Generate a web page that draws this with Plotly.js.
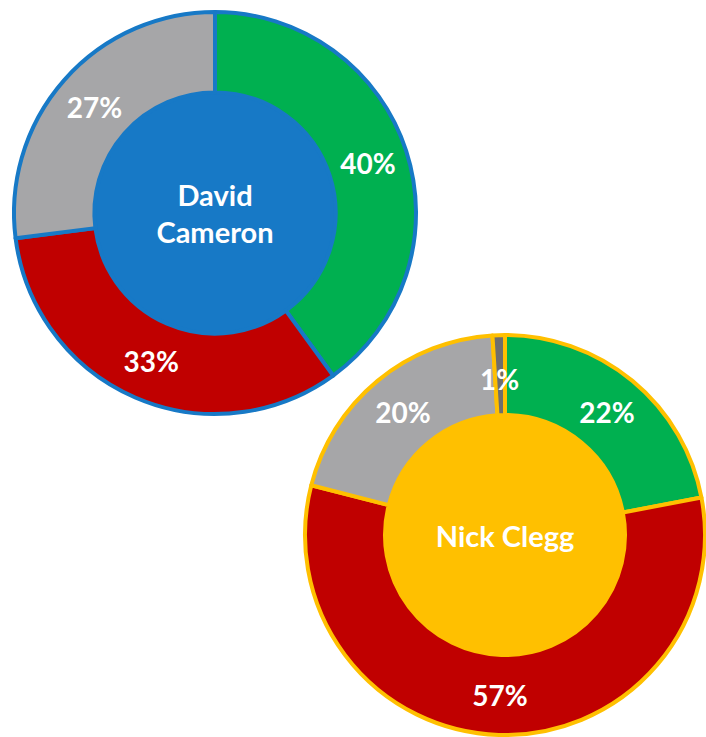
<!DOCTYPE html>
<html>
<head>
<meta charset="utf-8">
<script src="https://cdn.plot.ly/plotly-3.0.1.min.js"></script>
<style>html,body{margin:0;padding:0;background:#fff;}#chart{width:706px;height:737px;}</style>
</head>
<body>
<div id="chart"></div>
<script>
// ---- data ----
const categories = ['Positive', 'Negative', 'Neutral', 'Other'];
const cameronValues = [40, 33, 27];
const cleggValues = [22, 57, 20, 1];
const cameronTitle = 'David<br>Cameron';
const cleggTitle = 'Nick Clegg';

// ---- styling ----
const W = 706, H = 737;
const sliceColors = ['#00B050', '#C00000', '#A6A6A8', '#6E6E6E'];
const cameronBlue = '#1779C6';
const cleggGold = '#FFC000';
const FONT = 'Lato, "Open Sans", sans-serif';
const HOLE = 0.6;

function dom(cx, cy, r) {
  return {
    x: [(cx - r) / W, (cx + r) / W],
    y: [(H - cy - r) / H, (H - cy + r) / H]
  };
}

const cam = {cx: 215, cy: 213, r: 201};
const clg = {cx: 505, cy: 535, r: 200};

function disk(g, color) {
  return {
    type: 'pie', values: [1], labels: ['disk'], sort: false,
    marker: {colors: [color], line: {color: color, width: 0}},
    textinfo: 'none', hoverinfo: 'skip', showlegend: false,
    domain: dom(g.cx, g.cy, g.r * HOLE + 3)
  };
}

function donut(g, values, lineColor, title, textpos, titleSize) {
  return {
    type: 'pie', values: values, labels: categories.slice(0, values.length),
    sort: false, direction: 'clockwise', rotation: 0, hole: HOLE,
    marker: {colors: sliceColors.slice(0, values.length), line: {color: lineColor, width: 4}},
    texttemplate: '%{value}%', textposition: textpos,
    insidetextorientation: 'horizontal',
    textfont: {family: FONT, size: 28, color: '#ffffff', weight: 700},
    title: {text: title, position: 'middle center', font: {family: FONT, size: titleSize, color: '#ffffff', weight: 700}},
    showlegend: false, hoverinfo: 'label+percent',
    domain: dom(g.cx, g.cy, g.r)
  };
}

// annotation for tiny slice, placed at slice mid-angle on the ring midline
function sliceLabel(g, values, idx) {
  const total = values.reduce((a, b) => a + b, 0);
  let before = 0;
  for (let i = 0; i < idx; i++) before += values[i];
  const mid = (before + values[idx] / 2) / total * 2 * Math.PI;
  const rm = g.r * (1 + HOLE) / 2;
  const px = g.cx + rm * Math.sin(mid);
  const py = g.cy - rm * Math.cos(mid) + 4;
  return {
    x: px / W, y: (H - py) / H, xref: 'paper', yref: 'paper',
    xanchor: 'center', yanchor: 'middle',
    text: values[idx] + '%', showarrow: false,
    font: {family: FONT, size: 28, color: '#ffffff', weight: 700}
  };
}

const data = [
  disk(cam, cameronBlue),
  donut(cam, cameronValues, cameronBlue, cameronTitle, 'inside', 29),
  disk(clg, cleggGold),
  donut(clg, cleggValues, cleggGold, cleggTitle, ['inside', 'inside', 'inside', 'none'], 29)
];

const layout = {
  width: W, height: H,
  margin: {l: 0, r: 0, t: 0, b: 0, pad: 0},
  paper_bgcolor: '#ffffff',
  showlegend: false,
  annotations: [sliceLabel(clg, cleggValues, 3)]
};

Plotly.newPlot('chart', data, layout, {displayModeBar: false, staticPlot: true});
</script>
</body>
</html>
